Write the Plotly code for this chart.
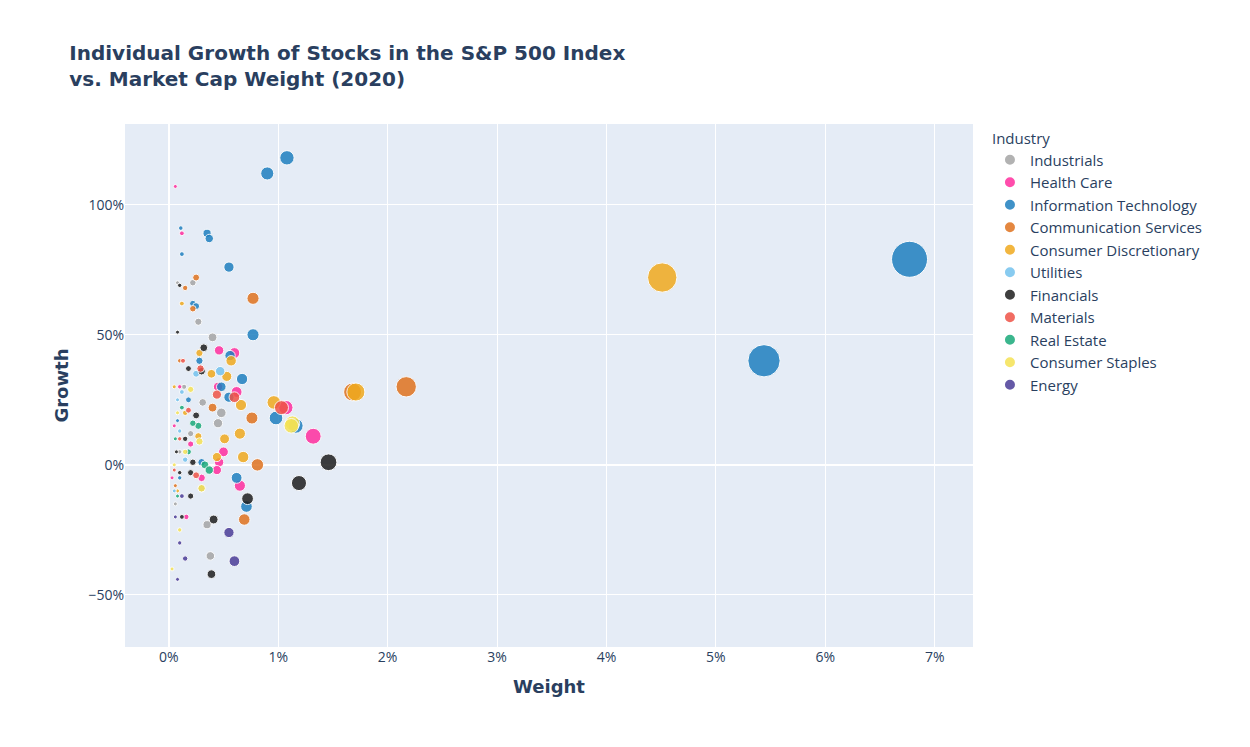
import plotly.graph_objects as go

# weight (%), growth (%), per industry
industries = ["Industrials", "Health Care", "Information Technology", "Communication Services",
              "Consumer Discretionary", "Utilities", "Financials", "Materials", "Real Estate",
              "Consumer Staples", "Energy"]

colors = {
    "Industrials": "#A5A5A5", "Health Care": "#FF2E9E", "Information Technology": "#1F7FBF",
    "Communication Services": "#E0731F", "Consumer Discretionary": "#F0AA1E", "Utilities": "#74C2EE",
    "Financials": "#1E1E1E", "Materials": "#EF5347", "Real Estate": "#1AAA7A",
    "Consumer Staples": "#F5E254", "Energy": "#4B3D98",
}

industrials_w = [0.40, 0.27, 0.45, 0.48, 0.31, 0.38, 0.35, 0.30, 0.22, 0.14, 0.10, 0.06, 0.20, 0.08]
industrials_g = [49, 55, 16, 20, 24, -35, -23, -9, 70, 30, 5, -15, 12, 70]
health_w = [1.32, 1.07, 0.60, 0.62, 0.46, 0.45, 0.50, 0.46, 0.44, 0.65, 0.30, 0.12, 0.16, 0.06, 0.20, 0.10, 0.05, 0.03]
health_g = [11, 22, 43, 28, 44, 30, 5, 1, -2, -8, -5, 89, -20, 107, 8, 30, 15, -5]
it_w = [6.77, 5.44, 1.08, 0.90, 0.35, 0.37, 0.55, 0.77, 0.56, 0.67, 0.98, 1.16, 0.55, 0.48, 0.62, 0.71,
        0.12, 0.22, 0.25, 0.11, 0.28, 0.30, 0.18, 0.08, 0.10]
it_g = [79, 40, 118, 112, 89, 87, 76, 50, 42, 33, 18, 15, 26, 30, -5, -16, 81, 62, 61, 91, 40, 1, 25, 17, -5]
comm_w = [2.17, 1.68, 0.77, 0.76, 0.81, 0.69, 0.25, 0.22, 0.40, 0.15, 0.10, 0.06]
comm_g = [30, 28, 64, 18, 0, -21, 72, 60, 22, 68, 40, -8]
disc_w = [4.51, 1.71, 0.96, 0.57, 0.53, 0.66, 0.65, 0.68, 0.51, 0.39, 0.44, 0.28, 0.12, 0.05, 0.27, 0.08, 0.15]
disc_g = [72, 28, 24, 40, 34, 23, 12, 3, 10, 35, 3, 43, 62, 30, 11, -10, 20]
util_w = [0.47, 0.25, 0.12, 0.08, 0.15, 0.05, 0.10]
util_g = [36, 35, 28, 25, 2, -10, 13]
fin_w = [1.46, 1.19, 0.72, 0.39, 0.41, 0.32, 0.30, 0.22, 0.20, 0.10, 0.08, 0.18, 0.15, 0.25, 0.10, 0.12, 0.07, 0.20]
fin_g = [1, -7, -13, -42, -21, 45, 36, 1, -12, 69, 51, 37, 10, 19, -3, -20, 5, -3]
mat_w = [1.03, 0.44, 0.60, 0.29, 0.18, 0.25, 0.13, 0.10, 0.05]
mat_g = [22, 27, 26, 37, 21, -4, 40, 10, -2]
re_w = [0.27, 0.33, 0.37, 0.22, 0.12, 0.08, 0.06, 0.18]
re_g = [15, 0, -2, 16, 22, -12, 10, 5]
staples_w = [1.13, 1.12, 0.30, 0.28, 0.20, 0.08, 0.05, 0.03, 0.10, 0.15]
staples_g = [16, 15, -9, 9, 29, 20, 0, -40, -25, 5]
energy_w = [0.55, 0.60, 0.15, 0.08, 0.10, 0.12, 0.06]
energy_g = [-26, -37, -36, -44, -30, -12, -20]

data = {
    "Industrials": (industrials_w, industrials_g), "Health Care": (health_w, health_g),
    "Information Technology": (it_w, it_g), "Communication Services": (comm_w, comm_g),
    "Consumer Discretionary": (disc_w, disc_g), "Utilities": (util_w, util_g),
    "Financials": (fin_w, fin_g), "Materials": (mat_w, mat_g), "Real Estate": (re_w, re_g),
    "Consumer Staples": (staples_w, staples_g), "Energy": (energy_w, energy_g),
}

max_w = 6.77
sizeref = 2 * max_w / 36 ** 2

fig = go.Figure()
for ind in industries:
    w, g = data[ind]
    fig.add_trace(go.Scatter(
        x=[v / 100 for v in w], y=[v / 100 for v in g], mode="markers", name=ind,
        marker=dict(size=w, sizemode="area", sizeref=sizeref, sizemin=2, color=colors[ind],
                    opacity=0.85, line=dict(color="white", width=1)),
    ))

fig.update_layout(
    width=1250, height=747,
    font=dict(family="Open Sans, Arial", color="#2a3f5f"),
    title=dict(text="<b>Individual Growth of Stocks in the S&P 500 Index<br>vs. Market Cap Weight (2020)</b>",
               x=0.049, y=0.93, font=dict(size=20, family="DejaVu Sans")),
    legend=dict(title=dict(text="Industry", font=dict(size=15)), font=dict(size=15), itemsizing="constant"),
    margin=dict(t=116, l=117, r=285, b=108),
    plot_bgcolor="#E5ECF6",
    xaxis=dict(title=dict(text="<b>Weight</b>", font=dict(size=18, family="DejaVu Sans")), tickformat=".0%",
               dtick=0.01, range=[-0.004, 0.0735], gridcolor="white", zerolinecolor="white", zerolinewidth=2,
               tickfont=dict(size=14)),
    yaxis=dict(title=dict(text="<b>Growth</b>", font=dict(size=18, family="DejaVu Sans")), tickformat=".0%",
               tickvals=[-0.5, 0, 0.5, 1.0], range=[-0.7, 1.31], gridcolor="white",
               zerolinecolor="white", zerolinewidth=2, tickfont=dict(size=14)),
)

fig.write_html("out.html")
